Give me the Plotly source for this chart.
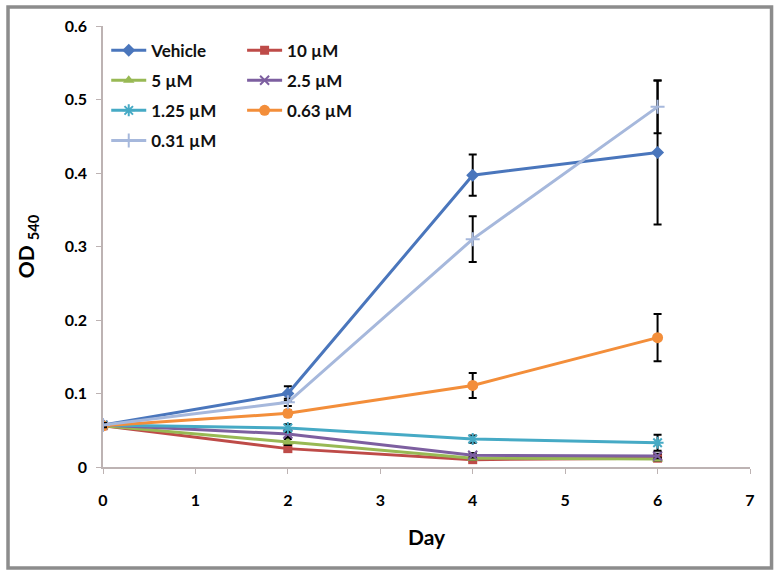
import plotly.graph_objects as go

days = [0, 2, 4, 6]
series_names = ["Vehicle", "10 µM", "5 µM", "2.5 µM", "1.25 µM", "0.63 µM", "0.31 µM"]
vehicle = [0.057, 0.100, 0.397, 0.428]
vehicle_err = [0.004, 0.010, 0.028, 0.098]
c10 = [0.056, 0.025, 0.010, 0.012]
c10_err = [0.003, 0.004, 0.002, 0.002]
c5 = [0.056, 0.034, 0.012, 0.011]
c5_err = [0.003, 0.004, 0.002, 0.002]
c2_5 = [0.057, 0.045, 0.016, 0.015]
c2_5_err = [0.003, 0.005, 0.003, 0.003]
c1_25 = [0.057, 0.053, 0.038, 0.033]
c1_25_err = [0.003, 0.005, 0.005, 0.011]
c0_63 = [0.056, 0.073, 0.111, 0.176]
c0_63_err = [0.003, 0.004, 0.017, 0.032]
c0_31 = [0.057, 0.088, 0.310, 0.490]
c0_31_err = [0.003, 0.005, 0.031, 0.036]

x_ticks = [0, 1, 2, 3, 4, 5, 6, 7]
y_ticks = [0, 0.1, 0.2, 0.3, 0.4, 0.5, 0.6]
y_ticklabels = ["0", "0.1", "0.2", "0.3", "0.4", "0.5", "0.6"]

FONT = "Lato"
AXIS_COLOR = "#BDB3B3"

specs = [
    (vehicle, vehicle_err, "#4A76BC", dict(symbol="diamond", size=10), "legend"),
    (c10, c10_err, "#BE4B48", dict(symbol="square", size=9), "legend2"),
    (c5, c5_err, "#98B954", dict(symbol="triangle-up", size=10), "legend"),
    (c2_5, c2_5_err, "#7D5FA0", dict(symbol="x-thin", size=9, line=dict(width=2, color="#7D5FA0")), "legend2"),
    (c1_25, c1_25_err, "#46AAC5", dict(symbol="asterisk", size=10, line=dict(width=2, color="#46AAC5")), "legend"),
    (c0_63, c0_63_err, "#F38E3A", dict(symbol="circle", size=11), "legend2"),
    (c0_31, c0_31_err, "#A6B8DC", dict(symbol="cross-thin", size=10, line=dict(width=2, color="#A6B8DC")), "legend"),
]

fig = go.Figure()
for i, (name, (vals, errs, color, marker, leg)) in enumerate(zip(series_names, specs)):
    m = dict(color=color)
    m.update(marker)
    fig.add_trace(go.Scatter(
        x=days, y=vals, name=name, mode="lines+markers", legendgroup=f"g{i}",
        line=dict(color=color, width=3), marker=m, legend=leg,
        error_y=dict(type="data", array=errs, visible=True, color="black", thickness=2, width=4),
    ))

legend_common = dict(
    font=dict(family=FONT, size=17, color="#111111", weight="bold"),
    bgcolor="rgba(0,0,0,0)", tracegroupgap=5, itemwidth=35,
    xanchor="left", yanchor="top", orientation="v", traceorder="grouped",
)
fig.update_layout(
    width=780, height=576,
    margin=dict(l=103, r=30, t=26, b=109),
    paper_bgcolor="white", plot_bgcolor="white",
    showlegend=True,
    legend=dict(x=0.005, y=0.985, **legend_common),
    legend2=dict(x=0.215, y=0.985, **legend_common),
    xaxis=dict(
        range=[0, 7], tickvals=x_ticks, ticks="outside", ticklen=5, tickcolor=AXIS_COLOR,
        showline=True, linecolor=AXIS_COLOR, linewidth=1.5, showgrid=False, zeroline=False,
        tickfont=dict(family=FONT, size=16, color="black", weight="bold"), ticklabelstandoff=13,
        title=dict(text="Day", font=dict(family=FONT, size=21, color="black", weight="bold"), standoff=22),
    ),
    yaxis=dict(
        range=[0, 0.6], tickvals=y_ticks, ticktext=y_ticklabels, ticks="outside", ticklen=5, tickcolor=AXIS_COLOR,
        showline=True, linecolor=AXIS_COLOR, linewidth=1.5, showgrid=False, zeroline=False,
        tickfont=dict(family=FONT, size=16, color="black", weight="bold"), ticklabelstandoff=6,
        title=dict(text="OD <sub>540</sub>", font=dict(family=FONT, size=21, color="black", weight="bold"), standoff=24),
    ),
    shapes=[dict(type="rect", xref="paper", yref="paper",
                 x0=-0.1468, x1=1.0333, y0=-0.2290, y1=1.0430,
                 line=dict(color="#8C8C8C", width=3.5), fillcolor="rgba(0,0,0,0)", layer="below")],
)

fig.write_html("out.html", config={"displayModeBar": False},
               post_script="document.body.style.margin='0';document.body.style.overflow='hidden';")
